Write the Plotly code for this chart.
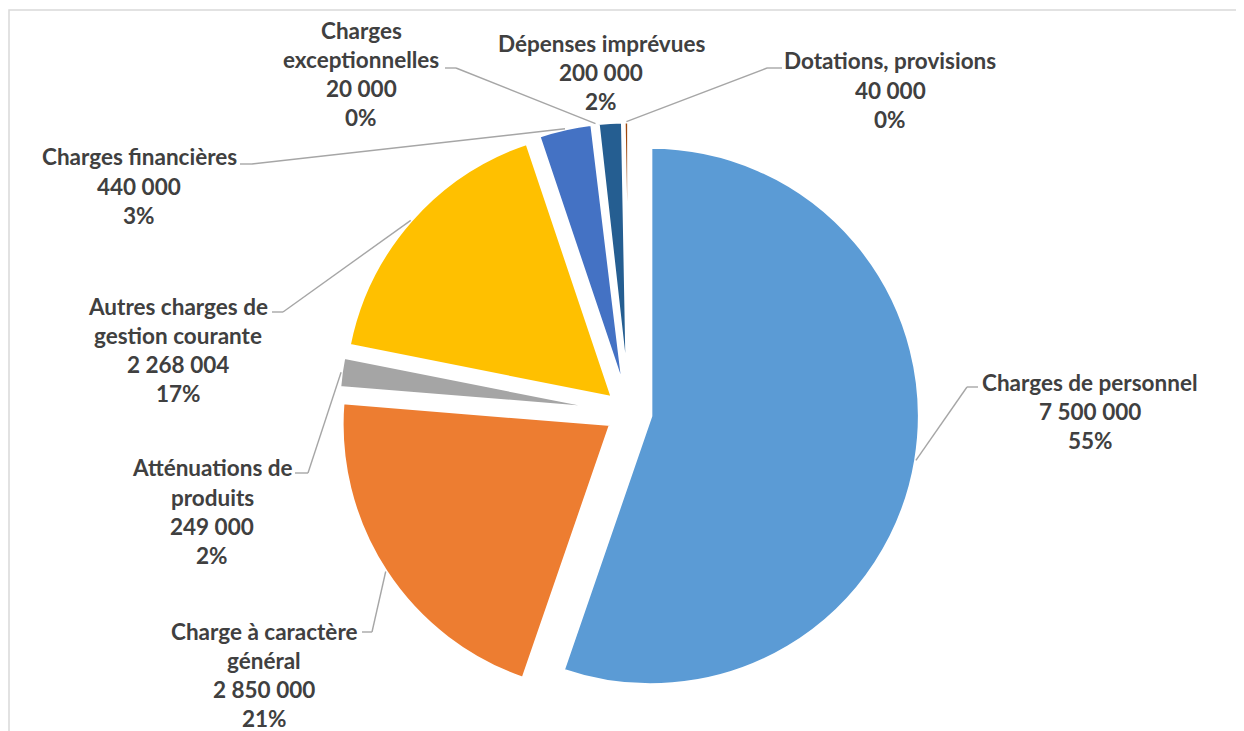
import math
import plotly.graph_objects as go

# ---------------- data ----------------
categories = [
    "Charges de personnel",
    "Charge à caractère général",
    "Atténuations de produits",
    "Autres charges de gestion courante",
    "Charges financières",
    "Charges exceptionnelles",
    "Dépenses imprévues",
    "Dotations, provisions",
]
values = [7500000, 2850000, 249000, 2268004, 440000, 20000, 200000, 40000]
percent_labels = ["55%", "21%", "2%", "17%", "3%", "0%", "2%", "0%"]
# how the category names are wrapped in the data labels
label_lines = [
    ["Charges de personnel"],
    ["Charge à caractère", "général"],
    ["Atténuations de", "produits"],
    ["Autres charges de", "gestion courante"],
    ["Charges financières"],
    ["Charges", "exceptionnelles"],
    ["Dépenses imprévues"],
    ["Dotations, provisions"],
]
colors = ["#5B9BD5", "#ED7D31", "#A5A5A5", "#FFC000",
          "#4472C4", "#70AD47", "#255E91", "#9E480E"]

# ---------------- layout parameters (screen pixels) ----------------
OFF = 8                   # page body margin
W, H = 1244 - OFF, 731 - OFF
CX, CY = 629.1, 412.4     # pie centre on screen
R = 269.0                 # pie radius
PULL = 0.081              # explosion of every slice

# label block: centre x, y of first line; leader: elbow point and end x
label_pos = [
    (1090, 382), (264, 631), (212, 468), (178, 306),
    (139, 157), (361, 30), (601, 43), (890, 61),
]
leaders = [
    ((967, 387), 978),
    ((372, 632), 362),
    ((308, 473), 295),
    ((283, 312), 272),
    ((252, 164), 240),
    ((456, 68), 445),
    None,
    ((767, 68), 782),
]
LINE_STEP = 29.3

def px(x):
    return (x - OFF) / W

def py(y):
    return 1 - (y - OFF) / H

half_h = R * (1 + PULL)
yc = py(CY)
xc = px(CX)
dom_y = [yc - half_h / H, yc + half_h / H]
dom_x = [xc - 0.3, xc + 0.3]

fig = go.Figure(go.Pie(
    labels=categories,
    values=values,
    sort=False,
    direction="clockwise",
    rotation=0,
    pull=PULL,
    marker=dict(colors=colors, line=dict(color="white", width=3.5)),
    textinfo="none",
    hoverinfo="label+value+percent",
    showlegend=False,
    domain=dict(x=dom_x, y=dom_y),
))

total = sum(values)
annotations = []
shapes = []
cum = 0.0
font = dict(family="Lato, Open Sans, sans-serif", size=22.5, color="#404040",
            weight="bold")
for i, v in enumerate(values):
    frac = v / total
    mid = 2 * math.pi * (cum + frac / 2)
    cum += frac
    ax = CX + half_h * math.sin(mid)
    ay = CY - half_h * math.cos(mid)

    lines = label_lines[i] + [f"{v:,}".replace(",", " "), percent_labels[i]]
    lx, ly = label_pos[i]
    for k, t in enumerate(lines):
        annotations.append(dict(
            text=t, x=px(lx), y=py(ly + k * LINE_STEP), xref="paper", yref="paper",
            xanchor="center", yanchor="middle", showarrow=False, font=font,
        ))
    if leaders[i] is not None:
        (ex, ey), endx = leaders[i]
        for (x0, y0, x1, y1) in [(ax, ay, ex, ey), (ex, ey, endx, ey)]:
            shapes.append(dict(
                type="line", xref="paper", yref="paper",
                x0=px(x0), y0=py(y0), x1=px(x1), y1=py(y1),
                line=dict(color="#A6A6A6", width=1.4),
            ))

# chart area border (only top and left edges are inside the picture)
shapes.append(dict(type="rect", xref="paper", yref="paper",
                   x0=px(9), y0=py(10), x1=1.05, y1=-0.05,
                   line=dict(color="#D9D9D9", width=1.5), layer="below"))

fig.update_layout(
    width=W, height=H,
    margin=dict(l=0, r=0, t=0, b=0),
    paper_bgcolor="white",
    plot_bgcolor="white",
    annotations=annotations,
    shapes=shapes,
)

fig.write_html("out.html")
